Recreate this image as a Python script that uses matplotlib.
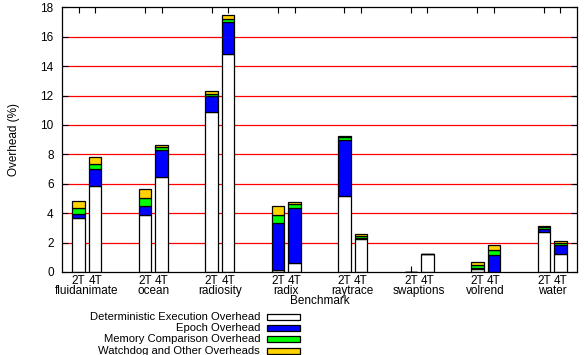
import numpy as np
import matplotlib
matplotlib.use("Agg")
import matplotlib.pyplot as plt
from matplotlib.patches import Rectangle
import matplotlib.transforms as mtransforms

plt.rcParams['font.family'] = ['Liberation Sans', 'DejaVu Sans']
plt.rcParams['font.size'] = 8.5

# data (overhead %)
benchmarks = ['fluidanimate', 'ocean', 'radiosity', 'radix', 'raytrace',
              'swaptions', 'volrend', 'water']
threads = ['2T', '4T']
# each list: [2T, 4T] pairs per benchmark, flattened
determ = [3.65, 5.83, 3.85, 6.46, 10.88, 14.85, 0.16, 0.61, 5.15, 2.27,
          0.0, 1.25, 0.22, 0.0, 2.72, 1.20]
epoch = [0.32, 1.15, 0.62, 1.86, 1.09, 2.15, 3.20, 3.77, 3.85, 0.05,
         0.0, 0.0, 0.03, 1.13, 0.23, 0.61]
memcmp = [0.40, 0.39, 0.59, 0.18, 0.16, 0.23, 0.54, 0.22, 0.15, 0.15,
          0.0, 0.0, 0.20, 0.39, 0.10, 0.18]
watchdog = [0.43, 0.45, 0.56, 0.15, 0.20, 0.23, 0.57, 0.14, 0.08, 0.13,
            0.0, 0.0, 0.25, 0.34, 0.05, 0.10]

series = [determ, epoch, memcmp, watchdog]
labels = ['Deterministic Execution Overhead', 'Epoch Overhead',
          'Memory Comparison Overhead', 'Watchdog and Other Overheads']
colors = ['white', '#0000ff', '#00ff00', '#ffd200']

# bar positions: 2T at 4i+1, 4T at 4i+2
pos = []
for i in range(len(benchmarks)):
    pos += [4 * i + 1, 4 * i + 2]
pos = np.array(pos)

W, H = 588, 355
fig = plt.figure(figsize=(W / 100, H / 100), dpi=100)
ax = fig.add_axes([62 / W, 1 - 272 / H, (577 - 62) / W, (272 - 7.3) / H])

# red grid lines
for g in range(2, 18, 2):
    ax.axhline(g, color='#ff0000', lw=0.9, zorder=0)

bottom = np.zeros(len(pos))
for vals, col in zip(series, colors):
    vals = np.array(vals)
    ax.bar(pos, vals, 0.75, bottom=bottom, color=col, edgecolor='black',
           linewidth=0.9, zorder=2)
    bottom += vals

ax.set_xlim(0, 31)
ax.set_ylim(0, 18)
ax.set_yticks(range(0, 19, 2))
ax.set_xticks(pos)
ax.set_xticklabels(threads * len(benchmarks))
ax.tick_params(axis='both', direction='in', length=4, width=0.8,
               top=True, right=True)
ax.tick_params(axis='y', pad=6)
ax.tick_params(axis='x', pad=2.5)
for sp in ax.spines.values():
    sp.set_linewidth(0.9)

trans = mtransforms.blended_transform_factory(ax.transData, fig.transFigure)
for i, name in enumerate(benchmarks):
    ax.text(4 * i + 1.5, 1 - 291 / H, name, transform=trans,
            ha='center', va='center')
fig.text((62 + 577) / 2 / W, 1 - 300.5 / H, 'Benchmark', ha='center', va='center')
ax.set_ylabel('Overhead (%)')
ax.yaxis.set_label_coords((20.5 - 62) / (577 - 62), 0.5)

# key, gnuplot style: text right-aligned, sample box to its right
for k, (lab, col) in enumerate(zip(labels, colors)):
    yc = 1 - (317 + 11.2 * k) / H
    fig.text(260 / W, yc, lab, ha='right', va='center', fontsize=8.1)
    fig.patches.append(Rectangle((267 / W, yc - 3 / H), 33 / W, 6 / H,
                                 transform=fig.transFigure, facecolor=col,
                                 edgecolor='black', linewidth=0.9))

fig.savefig('out.png', dpi=100)
